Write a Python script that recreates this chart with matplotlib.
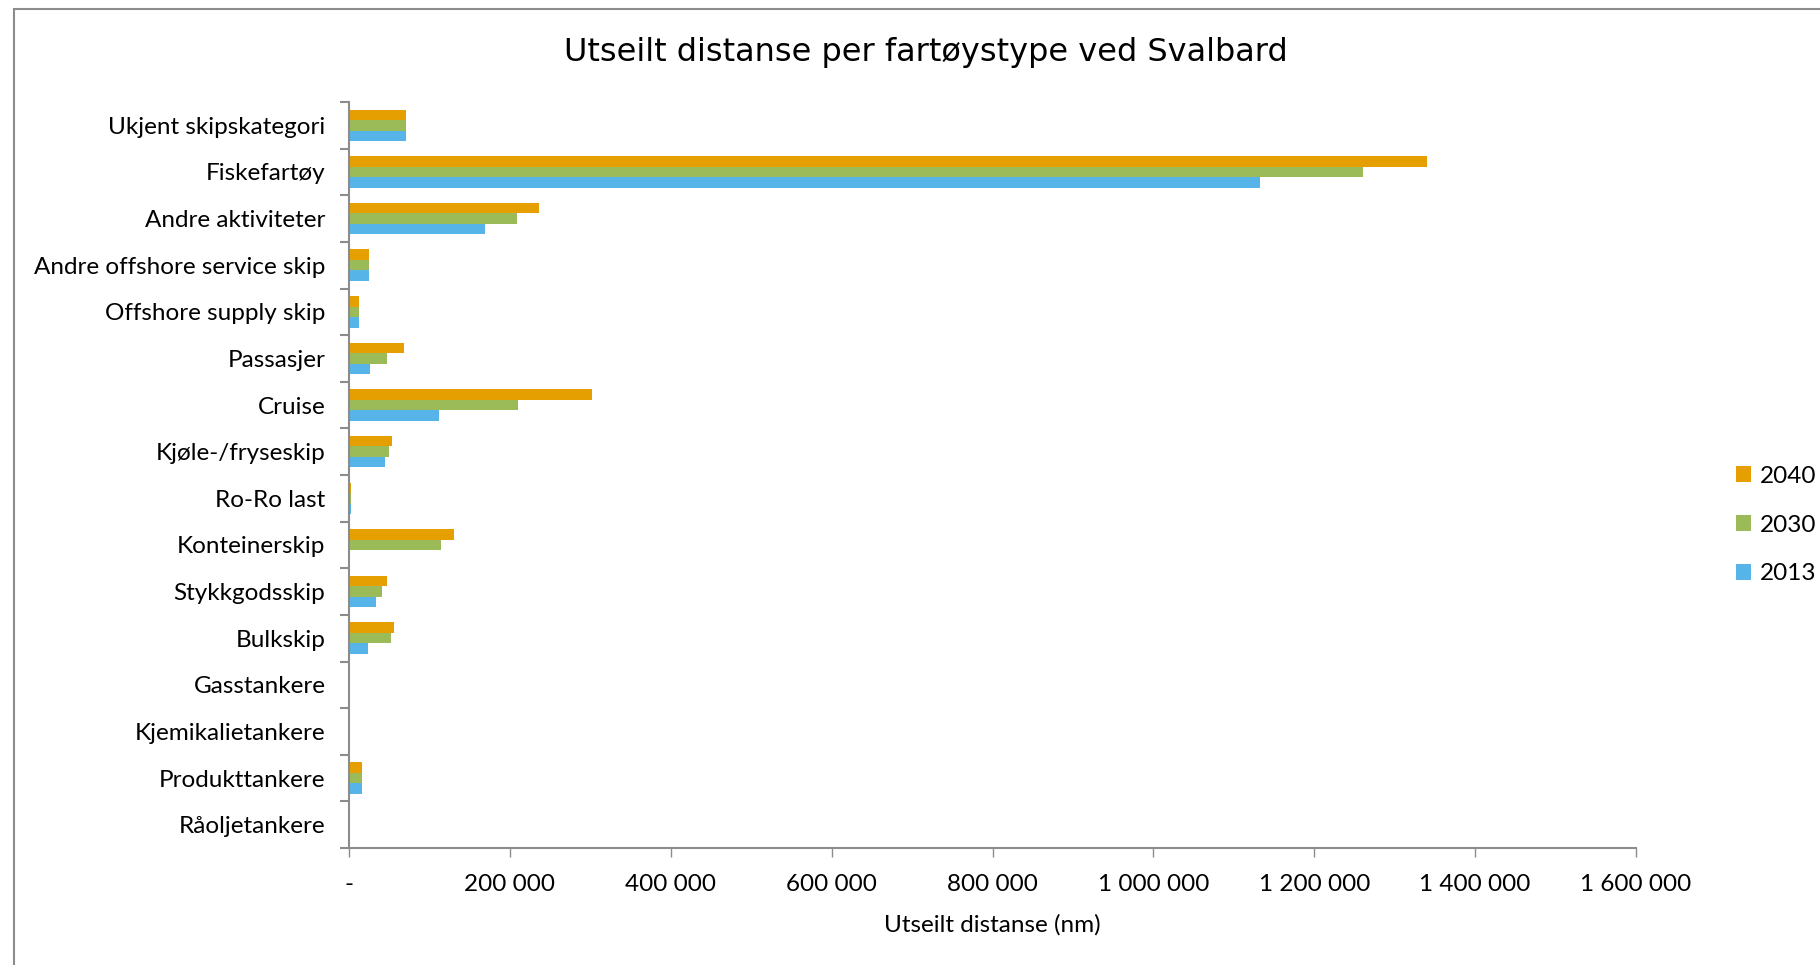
import numpy as np
import matplotlib
matplotlib.use("Agg")
import matplotlib.pyplot as plt
from matplotlib.patches import Rectangle
from matplotlib.ticker import FuncFormatter, MultipleLocator, FixedLocator

categories = ["Ukjent skipskategori", "Fiskefartøy", "Andre aktiviteter",
              "Andre offshore service skip", "Offshore supply skip", "Passasjer",
              "Cruise", "Kjøle-/fryseskip", "Ro-Ro last", "Konteinerskip",
              "Stykkgodsskip", "Bulkskip", "Gasstankere", "Kjemikalietankere",
              "Produkttankere", "Råoljetankere"]
d2040 = [71000, 1340000, 236000, 25000, 12000, 68000, 302000, 53000, 3000,
         130000, 47000, 56000, 0, 0, 16000, 0]
d2030 = [71000, 1260000, 209000, 25000, 12000, 47000, 210000, 50000, 3000,
         114000, 41000, 52000, 0, 0, 16000, 0]
d2013 = [71000, 1133000, 169000, 25000, 12000, 26000, 112000, 45000, 3000,
         0, 34000, 24000, 0, 0, 16000, 0]

c2040 = "#E69F00"
c2030 = "#9BBB59"
c2013 = "#56B4E9"
grey = "#8C8C8C"
label_font = "Lato"
fs = 17.5

fig = plt.figure(figsize=(18.2, 9.65), dpi=100)
ax = fig.add_axes([349 / 1820, 1 - 848 / 965, (1636 - 349) / 1820, (848 - 102) / 965])

y = np.arange(len(categories))
h = 0.225
b1 = ax.barh(y - h, d2040, height=h, color=c2040, label="2040")
b2 = ax.barh(y, d2030, height=h, color=c2030, label="2030")
b3 = ax.barh(y + h, d2013, height=h, color=c2013, label="2013")

ax.set_xlim(0, 1600000)
ax.set_ylim(len(categories) - 0.5, -0.5)

ax.xaxis.set_major_locator(MultipleLocator(200000))
ax.xaxis.set_major_formatter(FuncFormatter(
    lambda v, p: "-" if v == 0 else f"{int(v):,}".replace(",", " ")))
ax.set_yticks(y)
ax.set_yticklabels(categories)
ax.yaxis.set_minor_locator(FixedLocator(np.arange(-0.5, len(categories), 1.0)))

ax.tick_params(axis="y", which="major", length=0, pad=17, labelsize=fs)
ax.tick_params(axis="y", which="minor", length=6.5, width=1.5, color=grey)
ax.tick_params(axis="x", length=6.5, width=1.0, color=grey, pad=12, labelsize=fs)
for lab in ax.get_xticklabels() + ax.get_yticklabels():
    lab.set_family(label_font)

for side in ["top", "right"]:
    ax.spines[side].set_visible(False)
for side in ["left", "bottom"]:
    ax.spines[side].set_color(grey)
    ax.spines[side].set_linewidth(1.5)

ax.set_xlabel("Utseilt distanse (nm)", fontsize=fs, family=label_font, labelpad=14)

fig.text(926 / 1820, 1 - 53 / 965, "Utseilt distanse per fartøystype ved Svalbard",
         ha="center", va="center", fontsize=23, family="DejaVu Sans")

fig.legend(handles=[b1, b2, b3], loc="center left",
           bbox_to_anchor=(1736 / 1820, 1 - 525 / 965), frameon=False, borderpad=0,
           borderaxespad=0, prop={"family": label_font, "size": fs},
           handlelength=0.6, handleheight=0.6, handletextpad=0.4, labelspacing=1.15)

# outer frame of the chart area
fig.add_artist(Rectangle((14 / 1820, -0.1), 1.2, 1.1 - 9 / 965, transform=fig.transFigure,
                         fill=False, edgecolor=grey, linewidth=1.5))

fig.savefig("out.png", dpi=100)
